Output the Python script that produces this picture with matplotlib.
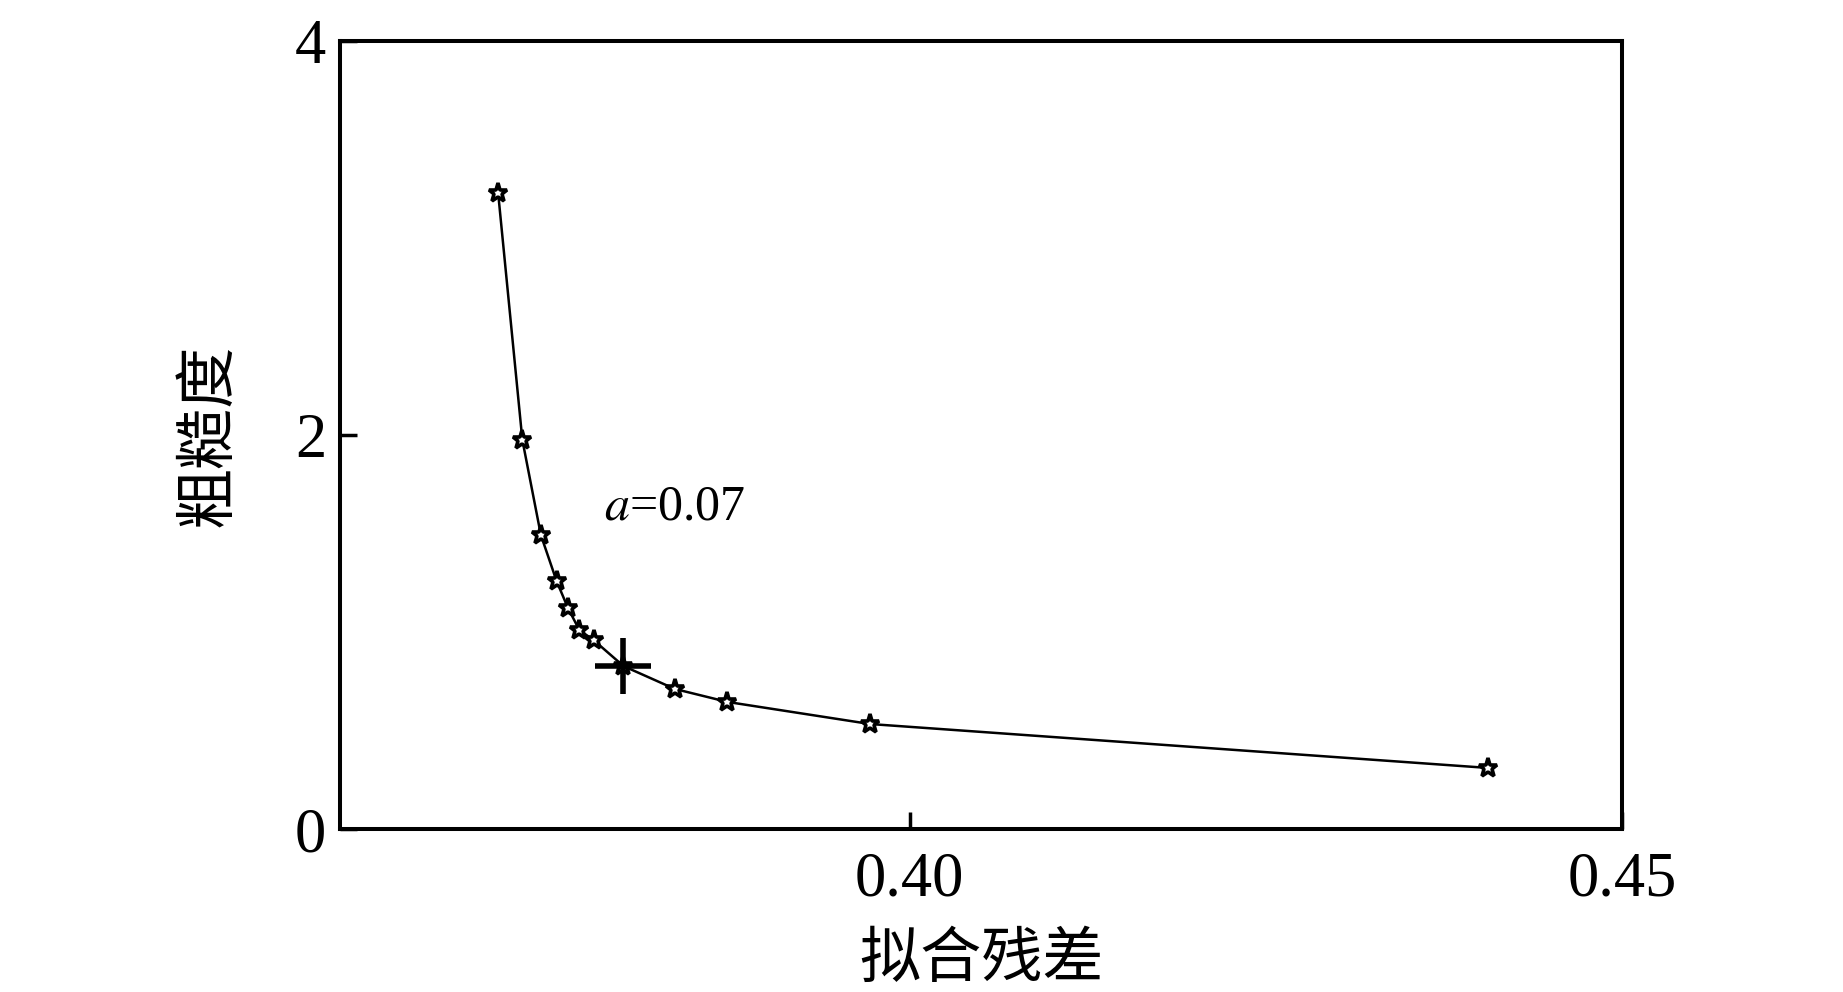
import matplotlib
matplotlib.use('Agg')
import matplotlib.pyplot as plt

plt.rcParams['font.family'] = ['Liberation Serif', 'Noto Sans CJK SC']
plt.rcParams['mathtext.fontset'] = 'stix'

# fit residual vs roughness (L-curve)
residual = [0.3711, 0.3728, 0.3741, 0.3752, 0.3760, 0.3768, 0.3778,
            0.3799, 0.3835, 0.3872, 0.3972, 0.4406]
roughness = [3.228, 1.975, 1.492, 1.259, 1.122, 1.010, 0.959,
             0.827, 0.711, 0.645, 0.533, 0.310]
best_x = 0.3799
best_y = 0.827

xticks = [0.40, 0.45]
xticklabels = ['0.40', '0.45']
yticks = [0, 2, 4]
yticklabels = ['0', '2', '4']

fig = plt.figure(figsize=(18.43, 9.92), dpi=100)
ax = fig.add_axes([0.1845, 0.1643, 0.6956, 0.7944])

ax.plot(residual, roughness, color='black', linewidth=1.8,
        marker='*', markersize=14, markerfacecolor='white',
        markeredgecolor='black', markeredgewidth=2.6)
ax.plot([best_x], [best_y], marker='+', markersize=40,
        markeredgewidth=4, color='black', linestyle='none')

ax.text(0.3785, 1.57, r'$\it{a}$=0.07', fontsize=36)

ax.set_xlim(0.36, 0.45)
ax.set_ylim(0, 4)
ax.set_xticks(xticks)
ax.set_xticklabels(xticklabels)
ax.set_yticks(yticks)
ax.set_yticklabels(yticklabels)
ax.tick_params(direction='in', length=12, width=2.5, labelsize=45)
ax.tick_params(axis='x', pad=16)
ax.tick_params(axis='y', pad=10)
for s in ax.spines.values():
    s.set_linewidth(2.9)

ax.set_xlabel('拟合残差', fontsize=44, family=['Noto Sans CJK SC'], labelpad=14)
ax.set_ylabel('粗糙度', fontsize=44, family=['Noto Sans CJK SC'], labelpad=40)

fig.savefig('out.png', dpi=100)
